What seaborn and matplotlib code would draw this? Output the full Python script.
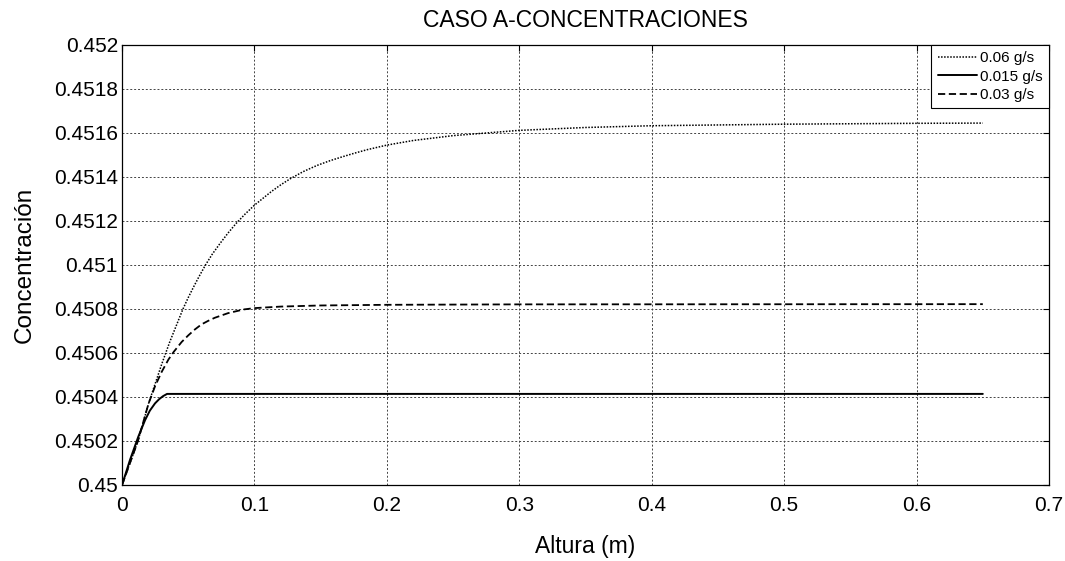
import matplotlib
matplotlib.use("Agg")
import matplotlib.pyplot as plt
import seaborn as sns
import pandas as pd

# Data
x_006 = [0, 0.012, 0.02, 0.03, 0.036, 0.04, 0.046, 0.05, 0.054, 0.058, 0.063, 0.068, 0.074,
         0.08, 0.086, 0.093, 0.1, 0.107, 0.113, 0.12, 0.127, 0.137, 0.147, 0.157, 0.167,
         0.176, 0.185, 0.2, 0.22, 0.25, 0.3, 0.35, 0.4, 0.5, 0.6, 0.65]
y_006 = [0.45, 0.4502, 0.45037, 0.45055, 0.45065, 0.45071, 0.4508, 0.450852, 0.4509, 0.450946,
         0.451, 0.451048, 0.451098, 0.451145, 0.451188, 0.451232, 0.451272, 0.451306, 0.451335,
         0.451365, 0.451392, 0.451425, 0.451452, 0.451474, 0.451493, 0.451509, 0.451524,
         0.451545, 0.451566, 0.451588, 0.451612, 0.451625, 0.451633, 0.45164, 0.451644, 0.451645]

x_0015 = [0, 0.006, 0.0123, 0.0174, 0.021, 0.0249, 0.028, 0.031, 0.034, 0.65]
y_0015 = [0.45, 0.450114, 0.45022, 0.450295, 0.450338, 0.450371, 0.45039, 0.450404, 0.450414,
          0.450414]

x_003 = [0, 0.012, 0.02, 0.025, 0.03, 0.035, 0.039, 0.045, 0.05, 0.055, 0.06, 0.065, 0.07,
         0.08, 0.092, 0.1, 0.12, 0.15, 0.2, 0.3, 0.65]
y_003 = [0.45, 0.4502, 0.45037, 0.45045, 0.450515, 0.45057, 0.450605, 0.45065, 0.45068,
         0.450707, 0.45073, 0.450746, 0.45076, 0.450781, 0.450798, 0.450804, 0.450811,
         0.450816, 0.450819, 0.450821, 0.450822]

labels = ["0.06 g/s", "0.015 g/s", "0.03 g/s"]
x_ticks = [0, 0.1, 0.2, 0.3, 0.4, 0.5, 0.6, 0.7]
y_ticks = [0.45, 0.4502, 0.4504, 0.4506, 0.4508, 0.451, 0.4512, 0.4514, 0.4516, 0.4518, 0.452]
y_ticklabels = ["0.45", "0.4502", "0.4504", "0.4506", "0.4508", "0.451", "0.4512", "0.4514",
                "0.4516", "0.4518", "0.452"]

sns.set_style("white")
plt.rcParams['font.family'] = ['Liberation Sans', 'DejaVu Sans']
plt.rcParams.update({"text.color": "black", "axes.labelcolor": "black",
                     "xtick.color": "black", "ytick.color": "black"})

fig = plt.figure(figsize=(10.65, 5.61), dpi=100)
ax = fig.add_axes([0.1146, 0.1355, 0.8704, 0.7843])

styles = [(0, (1, 1)), '-', (0, (4, 2))]
widths = [1.1, 1.4, 1.3]
for (xs, ys), lab, ls, lw in zip([(x_006, y_006), (x_0015, y_0015), (x_003, y_003)], labels, styles, widths):
    df = pd.DataFrame({"x": xs, "y": ys})
    sns.lineplot(data=df, x="x", y="y", ax=ax, color="black", linestyle=ls, linewidth=lw,
                 label=lab, estimator=None, sort=False)

ax.set_xlim(0, 0.7)
ax.set_ylim(0.45, 0.452)
ax.set_xticks(x_ticks)
ax.set_xticklabels([("%g" % t) for t in x_ticks])
ax.set_yticks(y_ticks)
ax.set_yticklabels(y_ticklabels)
ax.grid(True, color="#444444", linestyle=(0, (2, 2)), linewidth=0.7)
ax.tick_params(direction="in", length=4, labelsize=15, top=True, right=True,
               colors="black", labelcolor="black")
ax.tick_params(axis="y", pad=3)
ax.tick_params(axis="x", pad=8)
for s in ax.spines.values():
    s.set_color("black")
    s.set_linewidth(0.9)

ax.set_title("CASO A-CONCENTRACIONES", fontsize=16.5, pad=13, color="black")
ax.set_xlabel("Altura (m)", fontsize=16.5, labelpad=14, color="black")
ax.set_ylabel("Concentración", fontsize=17.5, labelpad=13, color="black")

leg = ax.legend(loc="upper right", fontsize=11, handlelength=2.6, borderaxespad=0,
                frameon=True, fancybox=False, framealpha=1, edgecolor="black",
                handletextpad=0.2, labelspacing=0.3, borderpad=0.4)
leg.get_frame().set_linewidth(0.8)
for t in leg.get_texts():
    t.set_color("black")

fig.savefig("out.png", dpi=100)
